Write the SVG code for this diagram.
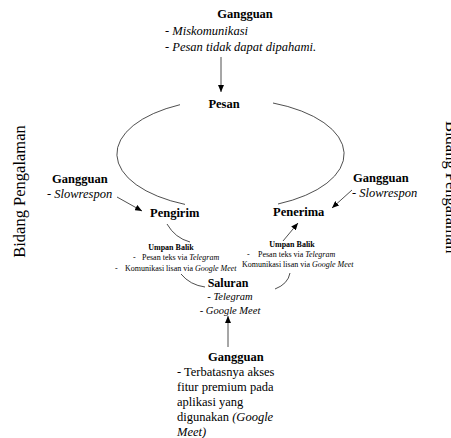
<svg xmlns="http://www.w3.org/2000/svg" width="451" height="438" viewBox="0 0 451 438">
<style>
text{font-family:"Liberation Serif","Times New Roman",serif;fill:#000}
.b{font-weight:bold;font-size:12.5px}
.r{font-size:12.5px}
.i{font-style:italic}
.s{font-size:8px}
.side{font-size:16.5px}
.ln{fill:none;stroke:#222;stroke-width:0.8}
</style>
<defs>
<marker id="ah" markerUnits="userSpaceOnUse" markerWidth="7" markerHeight="6" refX="7" refY="3" orient="auto">
<path d="M0,0 L7,3 L0,6 z" fill="#000"/>
</marker>
</defs>
<g id="connectors">
<path class="ln" d="M180,104.7 A113.5,55 0 0 0 185,204.4"/>
<path class="ln" d="M273,103 A113.5,55 0 0 1 278,204"/>
<line class="ln" x1="221" y1="57" x2="221" y2="92" marker-end="url(#ah)"/>
<line class="ln" x1="117" y1="197" x2="142" y2="211" marker-end="url(#ah)"/>
<line class="ln" x1="352" y1="190" x2="332" y2="208" marker-end="url(#ah)"/>
<line class="ln" x1="228" y1="347" x2="228" y2="316" marker-end="url(#ah)"/>
<line class="ln" x1="283" y1="241" x2="298" y2="223" marker-end="url(#ah)"/>
<path class="ln" d="M167,224 Q175,238 190,242"/>
<path class="ln" d="M181,274 Q190,285 205,287"/>
<path class="ln" d="M275,289 Q288,284 290,273"/>
</g>
<g id="gangguan-top">
<text class="b" x="245" y="18" text-anchor="middle">Gangguan</text>
<text class="r i" x="165" y="34.5">- Miskomunikasi</text>
<text class="r i" x="165" y="51">- Pesan tidak dapat dipahami.</text>
</g>
<g id="pesan"><text class="b" x="224" y="108" text-anchor="middle">Pesan</text></g>
<g id="gangguan-left">
<text class="b" x="52" y="183">Gangguan</text>
<text class="r" x="47" y="198">- <tspan class="i">Slowrespon</tspan></text>
</g>
<g id="gangguan-right">
<text class="b" x="353" y="182">Gangguan</text>
<text class="r" x="352" y="197">- <tspan class="i">Slowrespon</tspan></text>
</g>
<g id="pengirim"><text class="b" x="150" y="217">Pengirim</text></g>
<g id="penerima"><text class="b" x="273" y="216">Penerima</text></g>
<g id="umpan-balik-left">
<text class="s" x="171" y="250" text-anchor="middle" font-weight="bold">Umpan Balik</text>
<text class="s" x="133" y="260">-</text>
<text class="s" x="142" y="260">Pesan teks via <tspan class="i">Telegram</tspan></text>
<text class="s" x="115" y="271">-</text>
<text class="s" x="125" y="271">Komunikasi lisan via <tspan class="i">Google Meet</tspan></text>
</g>
<g id="umpan-balik-right">
<text class="s" x="292" y="247" text-anchor="middle" font-weight="bold">Umpan Balik</text>
<text class="s" x="247" y="257">-</text>
<text class="s" x="258" y="257">Pesan teks via <tspan class="i">Telegram</tspan></text>
<text class="s" x="242" y="267">Komunikasi lisan via <tspan class="i">Google Meet</tspan></text>
</g>
<g id="saluran">
<text x="228" y="287" text-anchor="middle" font-weight="bold" font-size="12">Saluran</text>
<text class="i" x="230" y="300" text-anchor="middle" font-size="10.5">- Telegram</text>
<text class="i" x="230" y="314" text-anchor="middle" font-size="10.5">- Google Meet</text>
</g>
<g id="gangguan-bottom">
<text class="b" x="208" y="361">Gangguan</text>
<text class="r" x="177" y="376">- Terbatasnya akses</text>
<text class="r" x="177" y="391">fitur premium pada</text>
<text class="r" x="177" y="405.7">aplikasi yang</text>
<text class="r" x="177" y="420.6">digunakan <tspan class="i">(Google</tspan></text>
<text class="r i" x="177" y="435.5">Meet)</text>
</g>
<g id="bidang-left"><text class="side" transform="translate(24.5,191.5) rotate(-90)" text-anchor="middle">Bidang Pengalaman</text></g>
<g id="bidang-right"><text class="side" transform="translate(446.3,121) rotate(90)">Bidang Pengalaman</text></g>
</svg>
